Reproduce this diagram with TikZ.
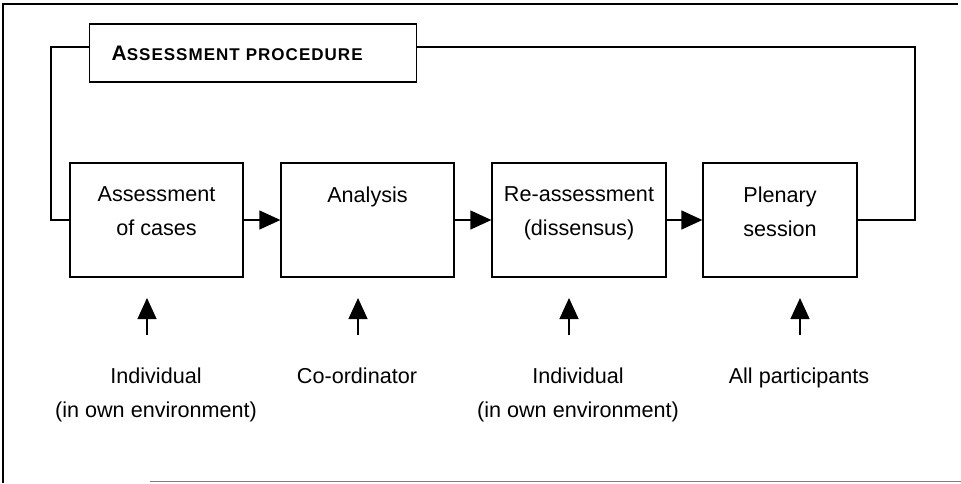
\documentclass[tikz,border=0pt]{standalone}
\usepackage{fontspec}
\setmainfont{Liberation Sans}
\usetikzlibrary{arrows.meta}
\tikzset{
  stepbox/.style={draw, line width=1.3pt, minimum height=114pt, inner sep=0pt},
  boxlab/.style={font=\fontsize{21.6}{34}\selectfont, align=center, inner sep=0pt},
  lab/.style={font=\fontsize{21.6}{34}\selectfont, align=center, inner sep=0pt, anchor=north},
  arr/.style={-{Triangle[length=21pt,width=19pt]}, line width=1.3pt},
  fb/.style={line width=1.3pt},
}
\begin{document}
\begin{tikzpicture}[x=1pt,y=-1pt]
\useasboundingbox (0,0) rectangle (961,483);
% page frame
\draw[line width=1.4pt] (3,483) -- (3,4) -- (958,4);
\draw[line width=1pt, gray] (150,481) -- (961,481);
% title
\node[draw, line width=1.3pt, anchor=west, minimum height=58pt, inner xsep=22pt, inner ysep=0pt,
      text width=283pt, align=left, font=\bfseries] (title) at (89,53)
  {{\fontsize{21}{21}\selectfont A}{\fontsize{17}{20}\selectfont\addfontfeature{LetterSpace=6}SSESSMENT}\hspace{6pt}{\fontsize{17}{20}\selectfont\addfontfeature{LetterSpace=6}PROCEDURE}};
% boxes
\node[stepbox, minimum width=173pt, label={[boxlab, anchor=north, yshift=-24pt]north:{Assessment\\of cases}}] (b1) at (156.5,220) {};
\node[stepbox, minimum width=173pt, label={[boxlab, anchor=north, yshift=-24pt]north:{Analysis}}] (b2) at (367.5,220) {};
\node[stepbox, minimum width=174pt, label={[boxlab, anchor=north, yshift=-24pt]north:{Re-assessment\\(dissensus)}}] (b3) at (579,220) {};
\node[stepbox, minimum width=154pt, label={[boxlab, anchor=north, yshift=-24pt]north:{Plenary\\session}}] (b4) at (780,220) {};
% feedback loop
\coordinate (fbL) at (51,47);
\coordinate (fbR) at (915,220);
\draw[fb] ([yshift=6pt]title.west) -- (fbL) |- (b1.west);
\draw[fb] ([yshift=6pt]title.east) -| (fbR) -- (b4.east);
% flow arrows
\draw[arr] (b1.east) -- (b2.west);
\draw[arr] (b2.east) -- (b3.west);
\draw[arr] (b3.east) -- (b4.west);
% actors
\node[lab] (l1) at (156,368) {Individual\\(in own environment)};
\node[lab] (l2) at (357,368) {Co-ordinator};
\node[lab] (l3) at (578,368) {Individual\\(in own environment)};
\node[lab] (l4) at (799,368) {All participants};
\coordinate (t1) at (147,335); \coordinate (h1) at (147,298);
\coordinate (t2) at (358,335); \coordinate (h2) at (358,298);
\coordinate (t3) at (569,335); \coordinate (h3) at (569,298);
\coordinate (t4) at (800,335); \coordinate (h4) at (800,298);
\draw[arr] (t1) -- (h1);
\draw[arr] (t2) -- (h2);
\draw[arr] (t3) -- (h3);
\draw[arr] (t4) -- (h4);
\end{tikzpicture}
\end{document}
